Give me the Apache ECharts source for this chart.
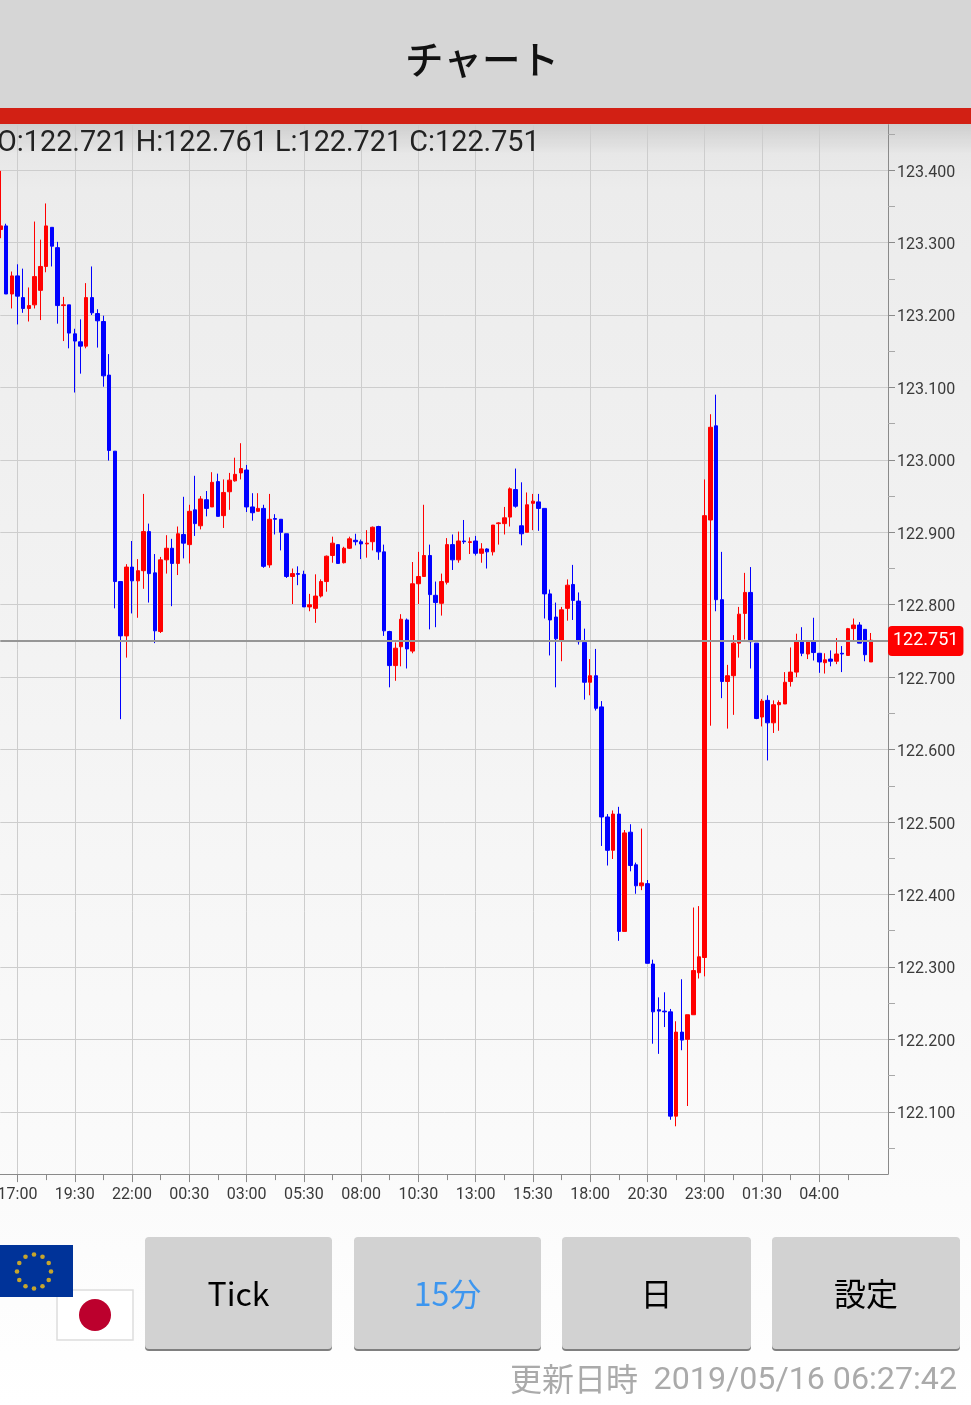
<!DOCTYPE html>
<html>
<head>
<meta charset="utf-8">
<style>
html, body { margin: 0; padding: 0; }
body { background: linear-gradient(#e4e4e4 124px, #ececec 190px, #fbfbfb 1200px, #ffffff 1405px); }
#chart { width: 971px; height: 1405px; }
</style>
<script src="https://cdn.jsdelivr.net/npm/echarts@6/dist/echarts.min.js"></script>
</head>
<body>
<div id="chart"></div>
<script>
// USD/JPY style 15 minute candles, oldest first
const opens = [
  123.318,123.323,123.229,123.254,123.224,123.209,123.214,123.234,123.267,123.321,
  123.293,123.213,123.214,123.174,123.163,123.157,123.224,123.202,123.191,123.117,
  123.012,122.832,122.757,122.852,122.833,122.847,122.901,122.844,122.763,122.862,
  122.878,122.857,122.897,122.883,122.931,122.909,122.945,122.935,122.970,122.923,
  122.956,122.971,122.982,122.986,122.935,122.929,122.933,122.855,122.919,122.918,
  122.898,122.839,122.843,122.842,122.797,122.795,122.812,122.832,122.868,122.883,
  122.858,122.878,122.889,122.887,122.884,122.887,122.908,122.873,122.763,122.716,
  122.742,122.779,122.736,122.829,122.839,122.868,122.813,122.802,122.831,122.883,
  122.862,122.888,122.886,122.888,122.871,122.877,122.873,122.912,122.912,122.921,
  122.959,122.909,122.900,122.940,122.942,122.933,122.815,122.783,122.750,122.795,
  122.828,122.805,122.748,122.693,122.702,122.659,122.507,122.461,122.511,122.349,
  122.486,122.441,122.412,122.415,122.304,122.241,122.239,122.238,122.094,122.210,
  122.200,122.234,122.292,122.313,122.917,123.047,122.807,122.694,122.702,122.747,
  122.788,122.817,122.747,122.645,122.668,122.637,122.662,122.663,122.694,122.707,
  122.749,122.732,122.750,122.733,122.720,122.725,122.722,122.733,122.730,122.767,
  122.772,122.766,122.721
]
const closes = [
  123.323,123.229,123.254,123.226,123.209,123.213,123.253,123.267,123.323,123.295,
  123.213,123.214,123.175,123.164,123.157,123.224,123.203,123.192,123.116,123.013,
  122.832,122.757,122.852,122.833,122.847,122.901,122.843,122.764,122.862,122.878,
  122.857,122.898,122.885,122.929,122.912,122.946,122.933,122.969,122.922,122.955,
  122.972,122.980,122.988,122.935,122.927,122.933,122.853,122.918,122.918,122.900,
  122.839,122.843,122.842,122.797,122.800,122.812,122.832,122.867,122.885,122.857,
  122.878,122.891,122.887,122.884,122.885,122.907,122.873,122.764,122.716,122.740,
  122.780,122.739,122.829,122.839,122.868,122.814,122.803,122.832,122.883,122.862,
  122.888,122.887,122.887,122.871,122.877,122.873,122.910,122.913,122.920,122.960,
  122.936,122.898,122.938,122.943,122.933,122.815,122.779,122.753,122.793,122.827,
  122.806,122.749,122.693,122.702,122.657,122.507,122.461,122.511,122.349,122.485,
  122.440,122.412,122.416,122.305,122.238,122.239,122.238,122.094,122.210,122.199,
  122.234,122.295,122.314,122.923,123.045,122.807,122.694,122.702,122.747,122.787,
  122.817,122.749,122.643,122.667,122.637,122.662,122.665,122.693,122.707,122.750,
  122.733,122.750,122.734,122.721,122.724,122.722,122.732,122.732,122.767,122.772,
  122.747,122.731,122.751
]
const lows = [
  123.306,123.229,123.209,123.187,123.203,123.191,123.209,123.193,123.259,123.267,
  123.188,123.164,123.154,123.093,123.119,123.154,123.200,123.155,123.101,122.999,
  122.795,122.642,122.727,122.788,122.782,122.822,122.803,122.747,122.761,122.843,
  122.798,122.841,122.864,122.857,122.895,122.904,122.922,122.935,122.922,122.906,
  122.931,122.970,122.973,122.928,122.916,122.929,122.851,122.851,122.897,122.875,
  122.837,122.801,122.827,122.797,122.791,122.775,122.810,122.818,122.858,122.857,
  122.857,122.877,122.882,122.863,122.865,122.875,122.862,122.757,122.686,122.695,
  122.715,122.712,122.733,122.801,122.839,122.766,122.769,122.785,122.828,122.848,
  122.858,122.884,122.870,122.868,122.858,122.850,122.868,122.883,122.897,122.908,
  122.934,122.882,122.900,122.903,122.902,122.781,122.730,122.686,122.722,122.778,
  122.779,122.745,122.669,122.675,122.654,122.467,122.440,122.449,122.336,122.349,
  122.432,122.401,122.406,122.305,122.194,122.180,122.217,122.089,122.080,122.185,
  122.108,122.234,122.284,122.287,122.633,122.791,122.671,122.629,122.648,122.727,
  122.752,122.712,122.642,122.632,122.585,122.623,122.626,122.663,122.687,122.700,
  122.729,122.725,122.723,122.706,122.705,122.715,122.718,122.707,122.730,122.751,
  122.747,122.722,122.721
]
const highs = [
  123.399,123.326,123.260,123.270,123.264,123.238,123.329,123.304,123.354,123.321,
  123.301,123.225,123.214,123.181,123.194,123.244,123.267,123.208,123.199,123.146,
  123.012,122.832,122.856,122.888,122.863,122.953,122.912,122.870,122.866,122.896,
  122.891,122.908,122.949,122.938,122.978,122.950,122.957,122.983,122.981,122.973,
  122.982,123.003,123.023,122.993,122.954,122.954,122.938,122.953,122.925,122.918,
  122.898,122.850,122.853,122.847,122.815,122.842,122.835,122.868,122.894,122.883,
  122.880,122.894,122.898,122.890,122.903,122.908,122.909,122.883,122.764,122.748,
  122.787,122.781,122.859,122.873,122.938,122.883,122.832,122.843,122.892,122.897,
  122.901,122.917,122.893,122.895,122.885,122.878,122.910,122.914,122.935,122.962,
  122.988,122.969,122.955,122.953,122.953,122.933,122.821,122.803,122.797,122.835,
  122.855,122.817,122.767,122.725,122.739,122.667,122.511,122.516,122.521,122.489,
  122.497,122.444,122.491,122.420,122.310,122.258,122.265,122.242,122.225,122.283,
  122.234,122.382,122.384,122.973,123.063,123.090,122.873,122.717,122.758,122.797,
  122.844,122.852,122.747,122.670,122.675,122.668,122.668,122.707,122.741,122.760,
  122.769,122.750,122.782,122.733,122.733,122.737,122.754,122.743,122.768,122.781,
  122.776,122.766,122.761
]
const lastPrice = 122.751
const labelPrices = [122.1, 122.2, 122.3, 122.4, 122.5, 122.6, 122.7, 122.8, 122.9, 123.0, 123.1, 123.2, 123.3, 123.4]
const tickPrices = [122.05, 122.15, 122.25, 122.35, 122.45, 122.55, 122.65, 122.75, 122.85, 122.95, 123.05, 123.15, 123.25, 123.35, 123.45]
const buttons = ['Tick', '15分', '日', '設定']

// one slot per 15 minutes, first candle opens at 16:15
const slots = []
for (let i = 0; i < 156; i++) {
  const m = (16 * 60 + 15 + i * 15) % 1440
  slots.push(String(Math.floor(m / 60)).padStart(2, '0') + ':' + String(m % 60).padStart(2, '0'))
}
const candles = opens.map((o, i) => [o, closes[i], lows[i], highs[i]])

const jp = '"Noto Sans CJK JP", Roboto, sans-serif'
const latin = 'Roboto, "Noto Sans CJK JP", sans-serif'

const gridLine = { show: true, lineStyle: { color: '#cdcdcd', width: 1 } }
const axisGrey = '#8a8a8a'
const majorSlot = idx => (idx - 3) % 10 === 0 && idx <= 143

function chromeElements() {
  const els = [
    { type: 'rect', shape: { x: 0, y: 0, width: 971, height: 108 }, style: { fill: '#d6d6d6' } },
    { type: 'rect', shape: { x: 0, y: 124, width: 971, height: 30 }, style: {
      fill: new echarts.graphic.LinearGradient(0, 0, 0, 1, [
        { offset: 0, color: 'rgba(0,0,0,0.09)' },
        { offset: 1, color: 'rgba(0,0,0,0)' }
      ]) } },
    { type: 'rect', shape: { x: 0, y: 108, width: 971, height: 16 }, style: { fill: '#d22014' } },
    { type: 'text', style: { text: 'チャート', x: 482, y: 59, align: 'center', verticalAlign: 'middle', font: '500 38.5px ' + jp, fill: '#111' } },
    { type: 'text', z: 10, style: { text: 'O:122.721 H:122.761 L:122.721 C:122.751', x: -3, y: 144, align: 'left', verticalAlign: 'middle', font: '28.8px ' + latin, fill: '#222' } },
    { type: 'text', style: { text: '更新日時', x: 510, y: 1379, align: 'left', verticalAlign: 'middle', font: '32px ' + jp, fill: '#aaaaaa' } },
    { type: 'text', style: { text: '2019/05/16 06:27:42', x: 957, y: 1381, align: 'right', verticalAlign: 'middle', font: '32.2px ' + latin, fill: '#aaaaaa' } },
    // flags
    { type: 'rect', shape: { x: 57, y: 1290, width: 76, height: 50 }, style: { fill: '#fff', stroke: '#dddddd', lineWidth: 1.5 } },
    { type: 'circle', shape: { cx: 95, cy: 1315, r: 16 }, style: { fill: '#bc002d' } },
    { type: 'rect', shape: { x: 0, y: 1245, width: 73, height: 52 }, style: { fill: '#003399' } }
  ]
  for (let i = 0; i < 12; i++) {
    const a = i * Math.PI / 6
    els.push({ type: 'circle', shape: { cx: 34 + 17 * Math.sin(a), cy: 1271.5 - 17 * Math.cos(a), r: 2.3 }, style: { fill: '#c6a52d' } })
  }
  const lefts = [145, 354, 562, 772]
  const widths = [187, 187, 189, 188]
  buttons.forEach((name, i) => {
    els.push({ type: 'rect', shape: { x: lefts[i], y: 1239, width: widths[i], height: 112, r: 4 }, style: { fill: '#7f7f7f' } })
    els.push({ type: 'rect', shape: { x: lefts[i], y: 1237, width: widths[i], height: 112, r: 4 }, style: { fill: '#d2d2d2' } })
    els.push({ type: 'text', style: { text: name, x: lefts[i] + widths[i] / 2, y: 1294, align: 'center', verticalAlign: 'middle', font: '32px ' + jp, fill: name === '15分' ? '#3d96ef' : '#000' } })
  })
  return els
}

const chart = echarts.init(document.getElementById('chart'))
chart.setOption({
  animation: false,
  backgroundColor: 'transparent',
  graphic: { elements: chromeElements() },
  grid: { left: 0.3, top: 124.7, width: 887.7, height: 1049.4, outerBoundsMode: 'none' },
  xAxis: [
    {
      type: 'category',
      data: slots,
      boundaryGap: false,
      axisLine: { lineStyle: { color: axisGrey, width: 1 } },
      axisTick: { interval: majorSlot, length: 8, lineStyle: { color: axisGrey } },
      axisLabel: { interval: majorSlot, margin: 13, color: '#3a3a3a', fontSize: 16, fontFamily: 'Roboto' },
      splitLine: Object.assign({ interval: majorSlot }, gridLine)
    },
    {
      type: 'category',
      data: slots,
      boundaryGap: false,
      position: 'bottom',
      axisLine: { show: false },
      axisTick: { interval: idx => (idx - 3) % 5 === 0 && idx <= 148, length: 6, lineStyle: { color: axisGrey } },
      axisLabel: { show: false },
      splitLine: { show: false }
    }
  ],
  yAxis: [
    {
      type: 'value',
      position: 'right',
      min: 122.014,
      max: 123.4627,
      axisLine: { show: true, lineStyle: { color: axisGrey, width: 1 } },
      axisTick: { show: true, customValues: labelPrices, length: 7, lineStyle: { color: axisGrey } },
      axisLabel: { customValues: labelPrices, margin: 9, verticalAlign: 'top', lineHeight: 5, color: '#3a3a3a', fontSize: 16, fontFamily: 'Roboto', formatter: v => v.toFixed(3) },
      splitLine: gridLine
    },
    {
      type: 'value',
      position: 'right',
      min: 122.014,
      max: 123.4627,
      axisLine: { show: false },
      axisTick: { show: true, customValues: tickPrices, length: 7, lineStyle: { color: '#a8a8a8' } },
      axisLabel: { show: false },
      splitLine: { show: false }
    }
  ],
  series: [
    {
      type: 'candlestick',
      data: candles,
      barWidth: 4,
      clip: false,
      itemStyle: { color: '#ff0000', color0: '#0000ff', borderColor: '#ff0000', borderColor0: '#0000ff', borderWidth: 1 },
      markLine: {
        silent: true,
        symbol: 'none',
        lineStyle: { color: '#969696', type: 'solid', width: 2 },
        label: {
          position: 'end',
          distance: 0,
          formatter: lastPrice.toFixed(3),
          color: '#fff',
          fontSize: 18,
          fontFamily: 'Roboto',
          backgroundColor: '#fe0000',
          borderRadius: 4,
          padding: [6, 5]
        },
        data: [{ yAxis: lastPrice }]
      }
    }
  ]
})
window.addEventListener('resize', () => chart.resize())
</script>
</body>
</html>
